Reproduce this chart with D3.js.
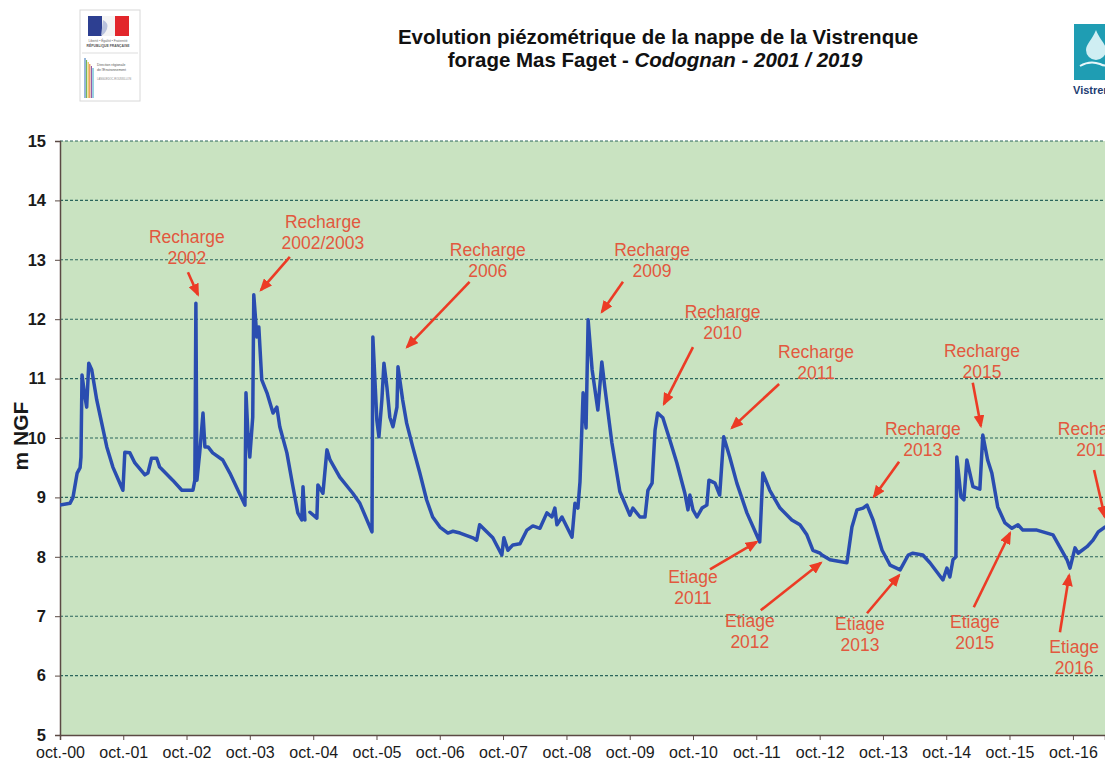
<!DOCTYPE html>
<html>
<head>
<meta charset="utf-8">
<script src="https://cdn.jsdelivr.net/npm/d3@7"></script>
<style>
  body { margin: 0; background: #fff; }
  svg { display: block; font-family: "Liberation Sans", Arial, sans-serif; }
</style>
</head>
<body>
<div id="chart"></div>
<script>
// niveau piezometrique (m NGF), forage Mas Faget
var levelDates = [
  "2000-10-01","2000-11-28","2000-12-15","2001-01-08","2001-01-25","2001-01-30","2001-02-05","2001-02-22",
  "2001-03-04","2001-03-16","2001-04-02","2001-05-01","2001-06-28","2001-08-02","2001-09-29","2001-10-10",
  "2001-11-08","2001-12-07","2002-02-03","2002-02-20","2002-03-13","2002-04-12","2002-04-29","2002-07-13",
  "2002-09-04","2002-11-07","2002-11-18","2002-11-24","2002-11-30","2002-12-16","2003-01-04","2003-01-15",
  "2003-02-02","2003-03-01","2003-04-28","2003-06-08","2003-09-03","2003-09-09","2003-09-20","2003-10-01",
  "2003-10-18","2003-10-24","2003-11-11","2003-11-22","2003-12-09","2004-01-08","2004-02-12","2004-03-05",
  "2004-03-22","2004-05-02","2004-06-06","2004-07-04","2004-07-27","2004-08-03","2004-08-14","2004-08-28",
  "2004-09-12","2004-10-22","2004-10-28","2004-11-26","2004-12-19","2005-01-06","2005-03-03","2005-05-17",
  "2005-06-27","2005-09-05","2005-09-10","2005-10-03","2005-10-15","2005-11-01","2005-11-13","2005-11-30",
  "2005-12-17","2006-01-04","2006-01-27","2006-02-02","2006-03-01","2006-03-24","2006-04-28","2006-06-08",
  "2006-07-17","2006-08-21","2006-10-02","2006-11-17","2006-12-16","2007-01-26","2007-04-10","2007-05-02",
  "2007-05-19","2007-06-29","2007-08-03","2007-09-24","2007-10-06","2007-10-29","2007-11-27","2008-01-07",
  "2008-02-16","2008-03-21","2008-05-01","2008-06-10","2008-07-09","2008-07-26","2008-08-07","2008-09-05",
  "2008-11-02","2008-11-19","2008-12-06","2008-12-18","2009-01-05","2009-01-22","2009-02-03","2009-02-26",
  "2009-03-31","2009-04-23","2009-05-10","2009-06-20","2009-08-05","2009-10-02","2009-10-19","2009-11-29",
  "2009-12-28","2010-01-14","2010-02-07","2010-02-24","2010-03-11","2010-04-10","2010-05-20","2010-06-30",
  "2010-08-15","2010-09-02","2010-09-13","2010-10-01","2010-10-24","2010-11-22","2010-12-20","2011-01-01",
  "2011-02-05","2011-03-04","2011-03-27","2011-05-01","2011-06-11","2011-08-08","2011-10-21","2011-11-08",
  "2011-12-18","2012-02-15","2012-04-23","2012-06-09","2012-07-19","2012-08-23","2012-10-03","2012-10-14",
  "2012-11-29","2013-03-07","2013-04-05","2013-05-04","2013-06-08","2013-07-01","2013-08-05","2013-09-26",
  "2013-11-11","2014-01-08","2014-02-24","2014-03-22","2014-05-19","2014-06-29","2014-09-12","2014-10-05",
  "2014-10-22","2014-11-09","2014-11-26","2014-12-01","2014-12-25","2015-01-11","2015-01-28","2015-03-04",
  "2015-04-13","2015-04-30","2015-05-28","2015-06-21","2015-07-25","2015-09-05","2015-10-15","2015-11-19",
  "2015-12-17","2016-03-07","2016-06-08","2016-08-28","2016-09-14","2016-10-13","2016-10-31","2016-12-21",
  "2017-01-25","2017-02-24","2017-04-03"
];
var levelValues = [
  8.87, 8.90, 9.00, 9.41, 9.50, 9.68, 11.06, 10.69,
  10.52, 11.26, 11.15, 10.64, 9.85, 9.51, 9.12, 9.76,
  9.75, 9.58, 9.38, 9.41, 9.66, 9.66, 9.51, 9.29,
  9.12, 9.12, 9.29, 12.27, 9.29, 9.75, 10.42, 9.85,
  9.85, 9.75, 9.63, 9.41, 8.87, 10.76, 10.08, 9.68,
  10.35, 12.41, 11.70, 11.87, 10.98, 10.76, 10.42, 10.52,
  10.19, 9.75, 9.18, 8.74, 8.62, 9.18, 8.62, null,
  8.75, 8.65, 9.21, 9.07, 9.80, 9.63, 9.34, 9.07,
  8.90, 8.42, 11.70, 10.30, 10.02, 10.64, 11.26, 10.86,
  10.35, 10.19, 10.52, 11.20, 10.64, 10.25, 9.85, 9.41,
  8.96, 8.67, 8.50, 8.40, 8.43, 8.40, 8.32, 8.28,
  8.54, 8.42, 8.32, 8.03, 8.32, 8.11, 8.20, 8.22,
  8.45, 8.52, 8.48, 8.74, 8.67, 8.82, 8.54, 8.67,
  8.33, 8.90, 8.82, 9.26, 10.76, 10.17, 11.99, 11.15,
  10.47, 11.28, 10.86, 9.92, 9.10, 8.70, 8.82, 8.67,
  8.67, 9.12, 9.24, 10.13, 10.42, 10.34, 9.97, 9.58,
  9.07, 8.79, 9.04, 8.79, 8.67, 8.82, 8.87, 9.29,
  9.24, 9.04, 10.02, 9.68, 9.24, 8.74, 8.25, 9.41,
  9.12, 8.82, 8.62, 8.54, 8.37, 8.11, 8.06, 8.03,
  7.95, 7.90, 8.50, 8.79, 8.82, 8.87, 8.62, 8.11,
  7.86, 7.78, 8.03, 8.06, 8.03, 7.90, 7.61, 7.81,
  7.66, 7.95, 8.00, 9.68, 9.01, 8.96, 9.63, 9.18,
  9.14, 10.05, 9.63, 9.41, 8.84, 8.57, 8.48, 8.54,
  8.45, 8.45, 8.37, 7.95, 7.81, 8.15, 8.06, 8.17,
  8.28, 8.42, 8.50
];

var yTicks = [5, 6, 7, 8, 9, 10, 11, 12, 13, 14, 15];
var xTickDates = ["2000-10-01","2001-10-01","2002-10-01","2003-10-01","2004-10-01","2005-10-01",
  "2006-10-01","2007-10-01","2008-10-01","2009-10-01","2010-10-01","2011-10-01","2012-10-01",
  "2013-10-01","2014-10-01","2015-10-01","2016-10-01"];
var xTickLabels = ["oct.-00","oct.-01","oct.-02","oct.-03","oct.-04","oct.-05","oct.-06","oct.-07",
  "oct.-08","oct.-09","oct.-10","oct.-11","oct.-12","oct.-13","oct.-14","oct.-15","oct.-16"];
var xDomain = ["2000-10-01", "2017-04-04"];

// annotations : texte (date, niveau), fleche depuis -> vers
var annotTexts = [
  ["Recharge", "2002"], ["Recharge", "2002/2003"], ["Recharge", "2006"], ["Recharge", "2009"],
  ["Recharge", "2010"], ["Recharge", "2011"], ["Recharge", "2013"], ["Recharge", "2015"],
  ["Recharge", "2016"], ["Etiage", "2011"], ["Etiage", "2012"], ["Etiage", "2013"],
  ["Etiage", "2015"], ["Etiage", "2016"]
];
var annotAt = [
  ["2002-10-03", 13.38], ["2004-11-26", 13.64], ["2007-07-05", 13.16], ["2010-02-07", 13.16],
  ["2011-03-21", 12.12], ["2012-09-10", 11.45], ["2014-05-19", 10.15], ["2015-04-25", 11.46],
  ["2017-02-10", 10.15], ["2010-10-01", 7.66], ["2011-08-25", 6.92], ["2013-05-21", 6.87],
  ["2015-03-15", 6.90], ["2016-10-08", 6.48]
];
var arrowFrom = [
  ["2002-10-09", 12.79], ["2004-05-19", 13.05], ["2007-03-22", 12.63], ["2009-08-23", 12.63],
  ["2010-10-01", 11.53], ["2012-02-10", 10.91], ["2014-01-02", 9.60], ["2015-03-03", 10.93],
  ["2017-01-31", 9.46], ["2011-01-07", 7.79], ["2011-10-27", 7.10], ["2013-07-01", 7.05],
  ["2015-03-09", 7.15], ["2016-07-18", 6.73]
];
var arrowTo = [
  ["2002-12-06", 12.41], ["2003-12-04", 12.49], ["2006-03-26", 11.53], ["2009-04-23", 12.12],
  ["2010-04-16", 10.57], ["2011-05-13", 10.17], ["2013-08-10", 9.01], ["2015-04-19", 10.20],
  ["2017-04-03", 8.67], ["2011-10-04", 8.25], ["2012-10-08", 7.90], ["2014-01-02", 7.69],
  ["2015-10-04", 8.40], ["2016-09-09", 7.69]
];

var width = 1116, height = 763;
var plot = {left: 60, right: 1105, top: 141, bottom: 735};
var parse = d3.timeParse("%Y-%m-%d");

var svg = d3.select("#chart").append("svg")
  .attr("width", width).attr("height", height);

var defs = svg.append("defs");
defs.append("clipPath").attr("id", "crop")
  .append("rect").attr("x", 0).attr("y", 0).attr("width", plot.right).attr("height", height);
defs.append("clipPath").attr("id", "plotclip")
  .append("rect").attr("x", plot.left).attr("y", plot.top)
  .attr("width", plot.right - plot.left).attr("height", plot.bottom - plot.top);
defs.append("marker").attr("id", "arrowhead")
  .attr("viewBox", "0 0 12 10").attr("refX", 10).attr("refY", 5)
  .attr("markerWidth", 5).attr("markerHeight", 4.2).attr("orient", "auto")
  .append("path").attr("d", "M0,0 L12,5 L0,10 z").attr("fill", "#ec3b25");

var root = svg.append("g").attr("clip-path", "url(#crop)");

var x = d3.scaleTime().domain(xDomain.map(parse)).range([plot.left, plot.right]);
var y = d3.scaleLinear().domain([5, 15]).range([plot.bottom, plot.top]);

// fond de la zone de traçage
root.append("rect")
  .attr("x", plot.left).attr("y", plot.top)
  .attr("width", plot.right - plot.left).attr("height", plot.bottom - plot.top)
  .attr("fill", "#c9e3c1");

// quadrillage
root.append("g").selectAll("line").data(yTicks.filter(function(d){ return d > 5; }))
  .enter().append("line")
  .attr("x1", plot.left).attr("x2", plot.right)
  .attr("y1", function(d){ return y(d); }).attr("y2", function(d){ return y(d); })
  .attr("stroke", "#2b665c").attr("stroke-width", 1.1).attr("stroke-dasharray", "3,2");

// axes
var yAxis = root.append("g").attr("transform", "translate(" + plot.left + ",0)")
  .call(d3.axisLeft(y).tickValues(yTicks).tickSize(5).tickPadding(9).tickFormat(d3.format("d")));
yAxis.select(".domain").attr("stroke", "#5b4a44").attr("stroke-width", 1.5);
yAxis.selectAll(".tick line").attr("stroke", "#5b4a44");
yAxis.selectAll("text").attr("font-size", 16.5).attr("font-weight", "bold").attr("fill", "#1a1a1a")
  .attr("font-family", "Liberation Sans, Arial, sans-serif");

var xAxis = root.append("g").attr("transform", "translate(0," + plot.bottom + ")")
  .call(d3.axisBottom(x).tickValues(xTickDates.map(parse)).tickSize(5).tickPadding(7)
    .tickFormat(function(d, i){ return xTickLabels[i]; }));
xAxis.select(".domain").attr("stroke", "#5b4a44").attr("stroke-width", 1.5);
xAxis.selectAll(".tick line").attr("stroke", "#5b4a44");
xAxis.selectAll("text").attr("font-size", 16).attr("fill", "#1a1a1a")
  .attr("font-family", "Liberation Sans, Arial, sans-serif");

root.append("text")
  .attr("transform", "translate(22," + ((plot.top + plot.bottom) / 2 - 2) + ") rotate(-90)")
  .attr("text-anchor", "middle").attr("dominant-baseline", "middle")
  .attr("font-size", 21).attr("font-weight", "bold").attr("fill", "#1a1a1a")
  .text("m NGF");

// courbe piezometrique
var levels = levelDates.map(function(d, i){ return {date: parse(d), v: levelValues[i]}; });
var line = d3.line()
  .defined(function(d){ return d.v != null; })
  .x(function(d){ return x(d.date); })
  .y(function(d){ return y(d.v); });

root.append("path").datum(levels)
  .attr("clip-path", "url(#plotclip)")
  .attr("d", line)
  .attr("fill", "none")
  .attr("stroke", "#2a4db0")
  .attr("stroke-width", 3.5)
  .attr("stroke-linejoin", "round")
  .attr("stroke-linecap", "round");

// annotations
var annots = annotTexts.map(function(t, i){
  return {lines: t, at: annotAt[i], from: arrowFrom[i], to: arrowTo[i]};
});
var ag = root.append("g");
ag.selectAll("line").data(annots).enter().append("line")
  .attr("x1", function(d){ return x(parse(d.from[0])); })
  .attr("y1", function(d){ return y(d.from[1]); })
  .attr("x2", function(d){ return x(parse(d.to[0])); })
  .attr("y2", function(d){ return y(d.to[1]); })
  .attr("stroke", "#ec3b25").attr("stroke-width", 2.6)
  .attr("marker-end", "url(#arrowhead)");

var at = ag.selectAll("text").data(annots).enter().append("text")
  .attr("text-anchor", "middle")
  .attr("font-size", 17.5)
  .attr("fill", "#e2583e")
  .attr("x", function(d){ return x(parse(d.at[0])); })
  .attr("y", function(d){ return y(d.at[1]); });
at.append("tspan").attr("dy", "0.35em").text(function(d){ return d.lines[0]; });
at.append("tspan")
  .attr("x", function(d){ return x(parse(d.at[0])); })
  .attr("dy", 21).text(function(d){ return d.lines[1]; });

// titre
var title = root.append("g").attr("font-weight", "bold").attr("fill", "#111").attr("font-size", 20.5);
title.append("text").attr("x", 658).attr("y", 44).attr("text-anchor", "middle")
  .text("Evolution piézométrique de la nappe de la Vistrenque");
var t2 = title.append("text").attr("x", 655).attr("y", 67).attr("text-anchor", "middle");
t2.append("tspan").text("forage Mas Faget - ");
t2.append("tspan").attr("font-style", "italic").text("Codognan - 2001 / 2019");

// logo gauche (prefecture / DREAL)
var lg = root.append("g");
lg.append("rect").attr("x", 80).attr("y", 10).attr("width", 60).attr("height", 91)
  .attr("fill", "#fff").attr("stroke", "#d8d8d8");
lg.append("rect").attr("x", 88).attr("y", 16).attr("width", 14).attr("height", 20).attr("fill", "#2d3f91");
lg.append("rect").attr("x", 102).attr("y", 16).attr("width", 13).attr("height", 20).attr("fill", "#f4f4f4");
lg.append("rect").attr("x", 115).attr("y", 16).attr("width", 14).attr("height", 20).attr("fill", "#e2262b");
lg.append("path").attr("d", "M103,20 q6,3 4,9 q-2,5 -6,7 z").attr("fill", "#b9c2dd");
lg.append("text").attr("x", 108).attr("y", 42).attr("text-anchor", "middle").attr("font-size", 3.2)
  .attr("fill", "#666").text("Liberté • Égalité • Fraternité");
lg.append("text").attr("x", 108).attr("y", 47).attr("text-anchor", "middle").attr("font-size", 3.4)
  .attr("font-weight", "bold").attr("fill", "#555").text("RÉPUBLIQUE FRANÇAISE");
lg.append("line").attr("x1", 82).attr("x2", 138).attr("y1", 53).attr("y2", 53).attr("stroke", "#ddd");
var stripeColors = ["#2f6fb5", "#68b046", "#e9b531", "#e2762c", "#8a4a9c", "#37a6c8"];
lg.selectAll(".stripe").data(stripeColors).enter().append("line")
  .attr("x1", function(d, i){ return 85 + i * 1.6; }).attr("x2", function(d, i){ return 85 + i * 1.6; })
  .attr("y1", function(d, i){ return 58 + i * 2; }).attr("y2", 98)
  .attr("stroke", function(d){ return d; }).attr("stroke-width", 1);
lg.append("text").attr("x", 97).attr("y", 66).attr("font-size", 3.4).attr("fill", "#555").text("Direction régionale");
lg.append("text").attr("x", 97).attr("y", 71).attr("font-size", 3.4).attr("fill", "#555").text("de l'Environnement");
lg.append("text").attr("x", 97).attr("y", 80).attr("font-size", 2.6).attr("fill", "#888").text("LANGUEDOC-ROUSSILLON");

// logo droit (Vistrenque)
var rg = root.append("g");
rg.append("rect").attr("x", 1074).attr("y", 24).attr("width", 42).attr("height", 56).attr("fill", "#1f9db3");
rg.append("path").attr("d", "M1096,30 C1092,40 1086,44 1086,50 a10,10 0 0 0 20,0 C1106,44 1100,40 1096,30 z")
  .attr("fill", "#cfeef3");
rg.append("path").attr("d", "M1080,66 q10,-6 20,-2 q8,4 14,-2").attr("fill", "none")
  .attr("stroke", "#e8f7fa").attr("stroke-width", 2);
rg.append("text").attr("x", 1073).attr("y", 94).attr("font-size", 11).attr("font-weight", "bold")
  .attr("fill", "#1d3d72").text("Vistrenque");
</script>
</body>
</html>
